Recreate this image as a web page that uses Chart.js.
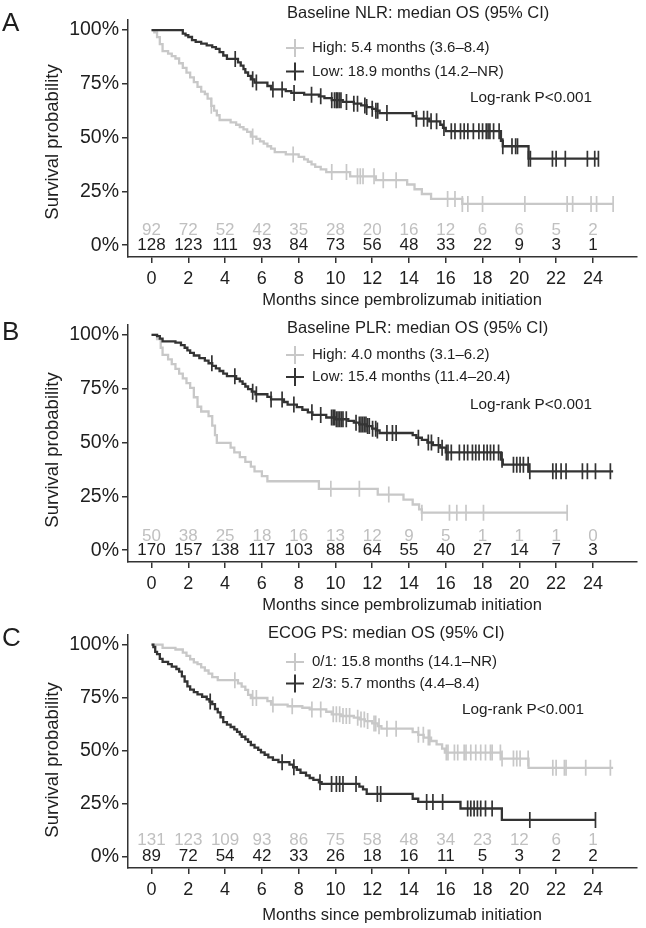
<!DOCTYPE html>
<html>
<head>
<meta charset="utf-8">
<script src="https://cdn.jsdelivr.net/npm/chart.js@4.4.1/dist/chart.umd.min.js"></script>
<style>
  html, body { margin: 0; padding: 0; background: #fff; }
  #wrap { position: relative; width: 646px; height: 928px; overflow: hidden; }
  canvas { position: absolute; left: 0; display: block; }
</style>
</head>
<body>
<div id="wrap">
  <canvas id="panelA" width="646" height="310" style="top:0px"></canvas>
  <canvas id="panelB" width="646" height="310" style="top:310px"></canvas>
  <canvas id="panelC" width="646" height="308" style="top:620px"></canvas>
</div>
<script>
// ---- axis ticks
const xTicks = [0, 2, 4, 6, 8, 10, 12, 14, 16, 18, 20, 22, 24];
const yTicks = [0, 25, 50, 75, 100];

// ---- A: baseline NLR (step times in months / survival %)
const aHighT = [0,0.15,0.3,0.45,0.6,0.9,1.1,1.3,1.5,1.7,1.9,2.1,2.3,2.5,2.7,2.9,3.05,3.25,3.4,3.55,3.7,4.3,4.6,4.8,5.0,5.2,5.4,5.7,5.9,6.1,6.3,6.5,6.7,7.3,8.0,8.3,8.5,8.7,8.9,9.2,9.5,10.8,12.2,13.9,14.3,14.7,15.2,16.9,25.1];
const aHighS = [100,98.9,96.7,93.5,90.2,89.1,87.9,86.8,84.6,82.4,80.2,78.0,75.8,73.6,71.4,70.3,68.1,64.8,62.6,60.4,58.2,57.1,56.0,54.9,53.8,52.7,50.5,49.4,48.3,47.2,46.0,44.9,43.3,42.2,41.1,39.9,38.8,37.6,36.4,35.2,34.0,32.0,30.2,28.2,26.0,23.8,21.5,19.2,19.2];
const aHighCens = [3.25,5.5,7.7,9.8,10.6,11.2,11.35,11.5,12.1,12.6,13.3,16.1,16.5,16.9,17.2,18.0,20.3,22.6,22.9,23.9,24.2,25.1];
const aLowT = [0,1.7,1.85,2.0,2.2,2.4,2.7,3.0,3.3,3.5,3.7,3.9,4.1,4.7,4.85,5.0,5.1,5.25,5.4,5.6,6.3,6.5,7.3,7.6,8.3,9.1,9.4,9.8,10.4,11.0,11.4,11.7,12.0,12.2,12.4,14.2,14.4,15.1,15.7,15.85,16.0,19.0,19.1,20.5,24.3];
const aLowS = [100,98.4,97.6,96.8,95.3,94.5,93.7,92.9,92.1,91.3,89.8,88.2,86.6,85.0,83.5,81.9,80.3,78.7,77.1,75.6,74.0,72.4,71.6,70.8,70.0,69.2,68.4,67.4,66.6,65.8,65.0,64.2,63.4,62.5,61.4,60.0,58.8,57.6,56.0,54.5,53.0,48.5,46.0,40.2,40.2];
const aLowCens = [4.55,5.5,5.7,6.6,7.1,7.75,8.7,9.2,9.8,9.95,10.05,10.1,10.2,10.3,10.6,11.0,11.2,11.6,11.7,12.0,12.2,12.3,12.8,14.4,14.8,15.0,15.2,15.5,15.9,16.3,16.5,16.8,17.0,17.2,17.5,17.8,18.0,18.2,18.3,18.4,18.6,18.9,19.1,19.6,19.8,19.9,20.5,20.6,21.8,22.0,22.5,23.7,24.1,24.3];
const aRiskHigh = [92,72,52,42,35,28,20,16,12,6,6,5,2];
const aRiskLow  = [128,123,111,93,84,73,56,48,33,22,9,3,1];

// ---- B: baseline PLR
const bHighT = [0,0.3,0.5,0.6,0.9,1.1,1.3,1.5,1.7,1.9,2.1,2.3,2.5,2.7,3.1,3.3,3.45,3.55,4.3,4.5,4.8,5.1,5.4,5.6,6.0,6.3,9.1,12.3,13.7,14.2,14.55,14.7,22.6];
const bHighS = [100,98,94,90.7,88.6,86.4,84.2,82,79.8,77.6,75.4,71,66.6,64.4,62.2,57.8,53.4,49.8,47.6,45.4,43.2,41,38.8,36.6,34.4,32.0,28.5,25.8,23.5,21.2,18.9,17.4,17.4];
const bHighCens = [9.75,11.3,12.9,14.7,16.2,16.6,17.1,18.05,22.6];
const bLowT = [0,0.3,0.45,0.6,1.3,1.6,1.8,1.95,2.1,2.3,2.6,2.9,3.1,3.3,3.5,3.7,3.9,4.1,4.6,4.8,4.95,5.1,5.25,5.45,5.65,6.3,6.5,7.2,7.4,7.9,8.2,8.5,8.75,9.5,10.0,10.7,11.0,11.3,11.7,12.0,12.2,12.4,14.2,14.4,14.7,15.0,15.3,15.7,16.0,19.0,19.1,20.5,25.1];
const bLowS = [100,99.4,98.2,97.0,96.4,95.2,94.0,92.8,91.6,90.4,89.2,88.0,86.8,85.6,84.4,83.2,82.0,80.8,79.6,78.4,77.2,76.0,74.8,73.6,72.4,71.2,70.0,68.8,67.6,66.4,65.2,64.0,62.8,61.6,60.8,60.0,59.2,58.4,57.6,56.4,55.6,54.4,53.4,52.2,51.2,50.0,48.8,47.6,45.4,42.0,39.7,36.6,36.6];
const bLowCens = [3.28,4.53,5.5,5.7,6.5,7.1,7.74,8.72,9.2,9.79,9.88,9.96,10.05,10.14,10.23,10.32,10.41,10.59,11.12,11.3,11.39,11.48,11.57,11.66,11.75,11.84,12.02,12.19,12.28,12.8,13.1,13.3,14.51,15.05,15.22,15.6,15.8,16.03,16.12,16.3,16.74,17.0,17.19,17.45,17.63,17.81,18.07,18.25,18.43,18.61,18.87,19.06,19.68,19.86,20.04,20.22,20.48,20.57,21.82,22.0,22.27,22.54,23.43,23.7,24.14,24.95];
const bRiskHigh = [50,38,25,18,16,13,12,9,5,1,1,1,0];
const bRiskLow  = [170,157,138,117,103,88,64,55,40,27,14,7,3];

// ---- C: ECOG PS
const c01T = [0,0.6,1.3,1.7,1.9,2.1,2.3,2.5,2.7,2.9,3.1,3.3,3.6,4.7,4.9,5.1,5.25,5.4,6.3,6.5,7.4,8.2,8.6,9.5,9.8,10.3,11.0,11.3,11.6,12.0,12.3,12.5,14.2,14.5,14.8,15.2,15.5,15.8,15.95,19.0,20.5,25.1];
const c01S = [100,98.5,97.7,96.2,94.7,93.1,91.6,90.8,89.3,87.8,86.3,84.7,83.2,81.7,80.2,78.6,76.3,74.8,73.3,71.7,70.9,70.2,69.4,68.3,67.1,66.3,65.5,64.7,63.9,62.8,61.5,60.3,58.7,57.4,56.1,54.5,52.9,50.9,49.0,46.2,41.8,41.8];
const c01Cens = [4.53,5.5,5.7,6.6,7.65,8.72,9.2,9.88,10.05,10.23,10.41,10.59,10.77,11.21,11.39,11.57,11.75,12.1,12.19,12.37,12.8,13.3,14.51,14.78,15.05,15.13,16.03,16.12,16.47,16.65,17.0,17.1,17.36,17.63,17.9,18.16,18.43,18.52,18.97,19.06,19.68,19.86,20.04,20.48,21.82,22.0,22.45,22.54,23.61,24.95];
const c23T = [0,0.1,0.2,0.3,0.45,0.6,0.9,1.1,1.35,1.5,1.65,1.8,1.95,2.1,2.3,2.5,2.75,3.0,3.15,3.3,3.45,3.6,3.75,3.9,4.1,4.3,4.5,4.65,4.8,4.9,5.1,5.25,5.4,5.6,5.8,5.95,6.15,6.35,6.6,6.9,7.5,7.7,7.9,8.1,8.4,8.6,8.8,9.1,9.25,11.3,11.5,11.7,14.2,14.5,16.8,19.05,24.15];
const c23S = [100,98.9,96.6,95.5,93.3,91.9,90.8,89.6,88.5,87.3,85.0,82.6,80.3,78.8,77.6,76.5,75.4,74.2,73.1,71.9,69.6,68.0,65.7,63.4,62.2,61.1,60.0,58.8,57.6,56.5,55.3,54.1,52.6,51.4,50.3,49.1,48.0,46.8,45.6,44.5,43.3,42.1,40.9,39.5,38.2,37.0,36.1,35.0,34.2,32.9,31.6,29.5,27.2,25.7,22.6,17.2,17.2];
const c23Cens = [3.19,7.1,7.74,9.16,9.79,10.05,10.23,10.41,11.12,12.28,12.46,14.96,15.3,15.83,17.19,17.36,17.54,17.72,17.9,18.16,18.52,20.57,24.14];
const cRisk01 = [131,123,109,93,86,75,58,48,34,23,12,6,1];
const cRisk23 = [89,72,54,42,33,26,18,16,11,5,3,2,2];

const FAM  = '"Liberation Sans", Arial, Helvetica, sans-serif';
const GRAY = '#c8c8c8';
const DARK = '#333333';
const INK  = '#1e1e1e';

// survival value of a step curve at time t (KM value, last step at or before t)
function stepAt(ts, ss, t) {
    let v = ss[0];
    for (let i = 0; i < ts.length; i++) if (ts[i] <= t) v = ss[i];
    return v;
}

const annot = {
    id: 'annot',
    afterDraw(chart, args, o) {
        const ctx = chart.ctx, xs = chart.scales.x, ys = chart.scales.y;
        ctx.save();
        // numbers at risk
        ctx.textAlign = 'center'; ctx.textBaseline = 'middle';
        ctx.font = `17px ${FAM}`;
        o.risk.forEach(r => {
            ctx.fillStyle = r.color;
            r.n.forEach((v, i) => ctx.fillText(String(v), xs.getPixelForValue(xTicks[i]), ys.getPixelForValue(r.level)));
        });
        // panel letter
        ctx.textAlign = 'left'; ctx.fillStyle = INK;
        ctx.font = `26px ${FAM}`;
        ctx.fillText(o.letter, 2, o.letterY);
        // legend
        ctx.font = `16.5px ${FAM}`;
        ctx.fillText(o.title, o.titleX, o.titleY);
        ctx.font = `15px ${FAM}`;
        o.entries.forEach(e => {
            ctx.strokeStyle = e.color; ctx.lineWidth = 2;
            ctx.beginPath();
            ctx.moveTo(286, e.y); ctx.lineTo(304, e.y);
            ctx.moveTo(295, e.y - 9); ctx.lineTo(295, e.y + 9);
            ctx.stroke();
            ctx.fillStyle = INK;
            ctx.fillText(e.text, 312, e.y);
        });
        ctx.font = `15.3px ${FAM}`;
        ctx.fillText('Log-rank P<0.001', o.lrX, o.lrY);
        // axis titles
        ctx.textAlign = 'center';
        ctx.font = `16.5px ${FAM}`;
        ctx.fillText('Months since pembrolizumab initiation', 402, o.xTitleY);
        ctx.translate(53, o.yTitleY);
        ctx.rotate(-Math.PI / 2);
        ctx.font = `18.5px ${FAM}`;
        ctx.fillText('Survival probability', 0, 0);
        ctx.restore();
    }
};

function makePanel(id, p) {
    const canvas = document.getElementById(id);
    const H = canvas.height;
    const ds = [];
    p.series.forEach(s => {
        ds.push({
            data: s.t.map((t, i) => ({ x: t, y: s.s[i] })),
            borderColor: s.color, borderWidth: 2.3, stepped: true,
            pointRadius: 0, fill: false, order: s.order
        });
        ds.push({
            data: s.cens.map(t => ({ x: t, y: stepAt(s.t, s.s, t) })),
            showLine: false, pointStyle: 'line', pointRotation: 90, pointRadius: 8,
            pointBorderWidth: 1.7, pointBorderColor: s.color, borderColor: s.color, order: s.order
        });
    });
    new Chart(canvas, {
        type: 'line',
        data: { datasets: ds },
        options: {
            responsive: false, animation: false, events: [],
            layout: { padding: { top: p.top, right: 1, left: 0, bottom: 0 } },
            plugins: { legend: { display: false }, tooltip: { enabled: false }, annot: p },
            scales: {
                x: {
                    type: 'linear', min: -1.28, max: 26.36,
                    afterBuildTicks: s => { s.ticks = xTicks.map(v => ({ value: v })); },
                    afterFit: s => { s.height = H - p.axis; },
                    grid: { drawOnChartArea: false, tickLength: 6, color: DARK, lineWidth: 1.5 },
                    border: { color: DARK, width: 1.5 },
                    ticks: { font: { family: FAM, size: 18 }, color: INK, padding: 5, maxRotation: 0, autoSkip: false }
                },
                y: {
                    min: -5.5, max: 104.7,
                    afterBuildTicks: s => { s.ticks = yTicks.map(v => ({ value: v })); },
                    afterFit: s => { s.width = 128; },
                    grid: { drawOnChartArea: false, tickLength: 6, color: DARK, lineWidth: 1.5 },
                    border: { color: DARK, width: 1.5 },
                    ticks: { font: { family: FAM, size: 19.5 }, color: INK, padding: 3, callback: v => v + '%' }
                }
            }
        },
        plugins: [annot]
    });
}

makePanel('panelA', {
    top: 20, axis: 257, letter: 'A', letterY: 24,
    title: 'Baseline NLR: median OS (95% CI)', titleX: 287, titleY: 13,
    entries: [
        { text: 'High: 5.4 months (3.6\u20138.4)', color: GRAY, y: 48 },
        { text: 'Low: 18.9 months (14.2\u2013NR)', color: DARK, y: 71.5 }
    ],
    lrX: 470, lrY: 98, xTitleY: 300, yTitleY: 142,
    series: [
        { t: aHighT, s: aHighS, cens: aHighCens, color: GRAY, order: 2 },
        { t: aLowT, s: aLowS, cens: aLowCens, color: DARK, order: 1 }
    ],
    risk: [ { n: aRiskHigh, color: '#c0c0c0', level: 7 }, { n: aRiskLow, color: INK, level: 0 } ]
});

makePanel('panelB', {
    top: 14, axis: 252, letter: 'B', letterY: 23,
    title: 'Baseline PLR: median OS (95% CI)', titleX: 287, titleY: 18,
    entries: [
        { text: 'High: 4.0 months (3.1\u20136.2)', color: GRAY, y: 45 },
        { text: 'Low: 15.4 months (11.4\u201320.4)', color: DARK, y: 67 }
    ],
    lrX: 470, lrY: 95, xTitleY: 295, yTitleY: 140,
    series: [
        { t: bHighT, s: bHighS, cens: bHighCens, color: GRAY, order: 2 },
        { t: bLowT, s: bLowS, cens: bLowCens, color: DARK, order: 1 }
    ],
    risk: [ { n: bRiskHigh, color: '#c0c0c0', level: 6.5 }, { n: bRiskLow, color: INK, level: 0 } ]
});

makePanel('panelC', {
    top: 12, axis: 248, letter: 'C', letterY: 19,
    title: 'ECOG PS: median OS (95% CI)', titleX: 268, titleY: 13.5,
    entries: [
        { text: '0/1: 15.8 months (14.1\u2013NR)', color: GRAY, y: 42 },
        { text: '2/3: 5.7 months (4.4\u20138.4)', color: DARK, y: 63.5 }
    ],
    lrX: 462, lrY: 90, xTitleY: 295, yTitleY: 140,
    series: [
        { t: c01T, s: c01S, cens: c01Cens, color: GRAY, order: 2 },
        { t: c23T, s: c23S, cens: c23Cens, color: DARK, order: 1 }
    ],
    risk: [ { n: cRisk01, color: '#c0c0c0', level: 7.5 }, { n: cRisk23, color: INK, level: 0 } ]
});
</script>
</body>
</html>
